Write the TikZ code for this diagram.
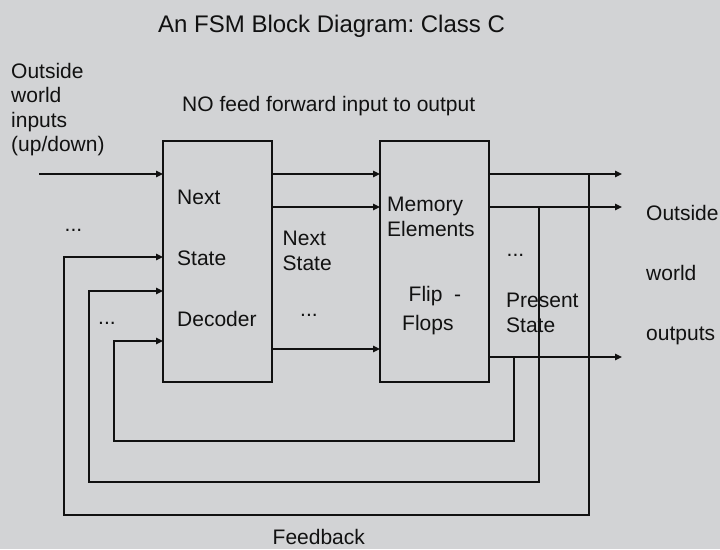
\documentclass[tikz,border=0pt]{standalone}
\usepackage{fontspec}
\setmainfont{Liberation Sans}
\usetikzlibrary{arrows.meta}
\definecolor{bg}{RGB}{210,211,213}
\definecolor{linec}{RGB}{17,17,17}
\frenchspacing
\begin{document}
\begin{tikzpicture}[x=1pt,y=-1pt,
  lbl/.style={anchor=base west, inner sep=0pt, align=left, text=linec, font=\fontsize{21}{25}\selectfont},
  ttl/.style={anchor=base west, inner sep=0pt, text=linec, font=\fontsize{24}{28}\selectfont},
  blk/.style={draw=linec, line width=2.2pt, minimum width=109pt, minimum height=241pt, inner sep=0pt, outer sep=0pt},
  arr/.style={draw=linec, line width=1.3pt, -{Triangle[length=7pt,width=6.5pt]}},
  wire/.style={draw=linec, line width=1.3pt}]
\fill[bg] (0,0) rectangle (720,549);
\useasboundingbox (0,0) rectangle (720,549);

% title and notes (multi-line nodes are placed by the baseline of their last line)
\node[ttl] (title) at (158,32) {An FSM Block Diagram: Class C};
\node[lbl, font=\fontsize{21}{24.5}\selectfont] (inputs) at (11,151.5) {Outside\\world\\inputs\\(up/down)};
\node[lbl] (nofeed) at (182,111) {NO feed forward input to output};

% blocks
\node[blk] (dec) at (217.5,261.5) {};
\node[blk] (mem) at (434.5,261.5) {};

% block labels
\node[lbl, font=\fontsize{21}{61}\selectfont] (declbl) at (177,326) {Next\\State\\Decoder};
\node[lbl] (memlbl) at (387,236.7) {Memory\\Elements};
\node[lbl] (flip) at (408.5,301) {Flip\ \ -};
\node[lbl] (flops) at (402,330.7) {Flops};
\node[lbl] (nslbl) at (282.5,270.7) {Next\\State};
\node[lbl] (nsdots) at (300,316.5) {...};
\node[lbl] (psdots) at (506.5,256.5) {...};
\node[lbl] (pslbl) at (506,332.7) {Present\\State};
\node[lbl, font=\fontsize{21}{60}\selectfont] (outs) at (646,340) {Outside\\world\\outputs};
\node[lbl] (indots1) at (64.5,231.5) {...};
\node[lbl] (indots2) at (98,324) {...};
\node[lbl] (fb) at (272.5,544.5) {Feedback};

% coordinates
\coordinate (in1) at (39,174);
\coordinate (y1) at (0,174);
\coordinate (y2) at (0,207);
\coordinate (y3) at (0,349);
\coordinate (o1) at (622,174);
\coordinate (o2) at (622,207);
\coordinate (o3) at (622,357);
\coordinate (t1) at (589,174);
\coordinate (t2) at (539,207);
\coordinate (t3) at (514,357);
\coordinate (b1) at (64,515);
\coordinate (b2) at (89,482);
\coordinate (b3) at (114,441);
\coordinate (e1) at (0,257);
\coordinate (e2) at (0,291);
\coordinate (e3) at (0,341);

% input
\draw[arr] (in1) -- (dec.west |- in1);
% decoder to memory
\draw[arr] (dec.east |- y1) -- (mem.west |- y1);
\draw[arr] (dec.east |- y2) -- (mem.west |- y2);
\draw[arr] (dec.east |- y3) -- (mem.west |- y3);
% outputs
\draw[arr] (mem.east |- o1) -- (o1);
\draw[arr] (mem.east |- o2) -- (o2);
\draw[arr] (mem.east |- o3) -- (o3);
% feedback loops
\draw[arr] (t1) |- (b1) |- (dec.west |- e1);
\draw[arr] (t2) |- (b2) |- (dec.west |- e2);
\draw[arr] (t3) |- (b3) |- (dec.west |- e3);
\end{tikzpicture}
\end{document}
